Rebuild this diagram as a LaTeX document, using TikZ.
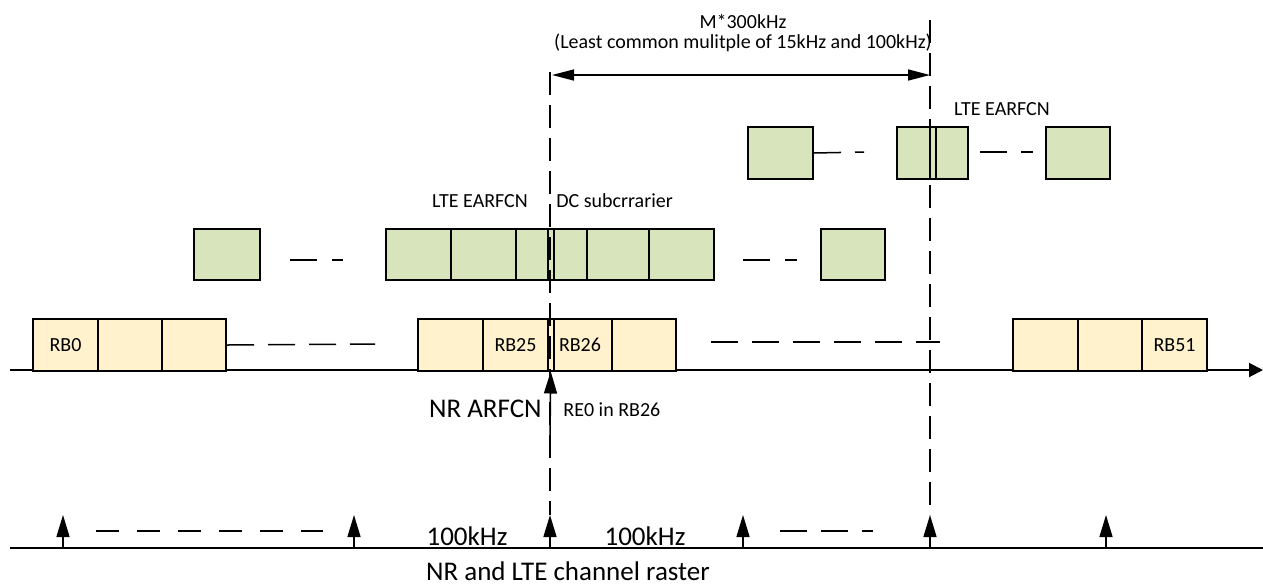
\documentclass[tikz,border=0pt]{standalone}
\usepackage{fontspec}
\setmainfont{Carlito}
\usetikzlibrary{arrows.meta}
\definecolor{nrfill}{HTML}{FFF2CC}
\definecolor{ltefill}{HTML}{D8E4BC}
\begin{document}
\begin{tikzpicture} [x=0.5pt, y=-0.5pt,
        every node/.style = {inner sep=0pt, font=\fontsize{10}{12}\selectfont},
        cellw/.style = {minimum width=#1*0.5pt},
        nrrb/.style = {draw, line width=1pt, fill=nrfill, anchor=north west, minimum height=26pt},
        lterb/.style = {draw, line width=1pt, fill=ltefill, anchor=north west, minimum height=25.5pt},
        big/.style = {font=\fontsize{13.5}{16}\selectfont},
        rowgap/.style = {line width=0.75pt, dash pattern=on 13.5pt off 7pt},
        guide/.style = {line width=0.75pt, dash pattern=on 11.5pt off 5pt},
        tip/.style = {line width=0.75pt, -{Triangle[length=11pt, width=6.5pt]}}]

            \useasboundingbox (0,0) rectangle (1263,585);

            % frequency axis and raster axis
            \coordinate (axL) at (10,370);
            \coordinate (axR) at (1263,370);
            \coordinate (rsL) at (10,548);
            \coordinate (rsR) at (1263,548);
            \draw[line width=1pt, -{Triangle[length=7pt, width=7pt]}] (axL) -- (axR);
            \draw[line width=1pt] (rsL) -- (rsR);

            % NR resource blocks
            \node[nrrb, cellw=65] (rb0)  at (32,318)  {RB0};
            \node[nrrb, cellw=64] (rb1)  at (97,318)  {};
            \node[nrrb, cellw=64] (rb2)  at (161,318) {};
            \node[nrrb, cellw=65] (rb24) at (417,318) {};
            \node[nrrb, cellw=65] (rb25) at (482,318) {RB25};
            \node[nrrb, cellw=64] (rb26) at (547,318) {RB26};
            \node[nrrb, cellw=6, line width=0.75pt] (re0) at (547,318) {};
            \node[nrrb, cellw=64] (rb27) at (611,318) {};
            \node[nrrb, cellw=65] (rb49) at (1012,318) {};
            \node[nrrb, cellw=64] (rb50) at (1077,318) {};
            \node[nrrb, cellw=65] (rb51) at (1141,318) {RB51};

            % LTE carrier around the NR ARFCN
            \node[lterb, cellw=66] (lm0) at (193,228) {};
            \node[lterb, cellw=65] (lm1) at (385,228) {};
            \node[lterb, cellw=65] (lm2) at (450,228) {};
            \node[lterb, cellw=32] (lm3) at (515,228) {};
            \node[lterb, cellw=6, line width=0.75pt] (dcm) at (547,228) {};
            \node[lterb, cellw=33] (lm4) at (553,228) {};
            \node[lterb, cellw=62] (lm5) at (586,228) {};
            \node[lterb, cellw=65] (lm6) at (648,228) {};
            \node[lterb, cellw=64] (lm7) at (820,228) {};

            % LTE carrier one raster step further
            \node[lterb, cellw=65, minimum height=26pt] (lt0) at (747,126) {};
            \node[lterb, cellw=33, minimum height=26pt] (lt1) at (896,126) {};
            \node[lterb, cellw=6, minimum height=26pt, line width=0.75pt] (dct) at (929,126) {};
            \node[lterb, cellw=32, minimum height=26pt] (lt2) at (935,126) {};
            \node[lterb, cellw=64, minimum height=26pt] (lt3) at (1045,126) {};

            \coordinate (gap1) at (375,344);
            \coordinate (gap2) at (711,342);
            \coordinate (gap3) at (940,342);
            \coordinate (lg0) at (290,260);
            \coordinate (lg1) at (343,260);
            \coordinate (lg2) at (743,260);
            \coordinate (lg3) at (797,260);
            \coordinate (tg0) at (864,152);
            \coordinate (tg1) at (980,152);
            \coordinate (tg2) at (1033,152);
            \coordinate (rg0) at (96,531);
            \coordinate (rg1) at (323,531);
            \coordinate (rg2) at (780,531);
            \coordinate (rg3) at (873,531);

            \draw[rowgap] (rb2.east) -- (gap1);
            \draw[rowgap] (gap2) -- (gap3);
            \draw[rowgap, dash pattern=on 13.5pt off 7.5pt] (lg0) -- (lg1);
            \draw[rowgap, dash pattern=on 13.5pt off 7.5pt] (lg2) -- (lg3);
            \draw[rowgap] (lt0.east) -- (tg0);
            \draw[rowgap] (tg1) -- (tg2);
            \draw[rowgap, dash pattern=on 11.25pt off 9.25pt] (rg0) -- (rg1);
            \draw[rowgap] (rg2) -- (rg3);

            % 100kHz channel raster
            \foreach \x [count=\i] in {63,354,550,743,930,1106} {
                \coordinate (r\i) at (\x,548);
                \coordinate (t\i) at (\x,515);
                \draw[tip] (r\i) -- (t\i);
            }

            \coordinate (gl) at (550,72);
            \coordinate (gr) at (930,20);
            \draw[guide] (gl) -- (t3);
            \draw[guide] (gr) -- (t5);

            \coordinate (nrlow) at (550,437);
            \draw[tip] (nrlow) -- (re0.south);

            \coordinate (dimL) at (552,75);
            \coordinate (dimR) at (930,75);
            \draw[line width=0.75pt, {Triangle[length=11pt, width=5.5pt]}-{Triangle[length=11pt, width=5.5pt]}] (dimL) -- (dimR);

            \node (span) at (743,21) {M*300kHz};
            \node (lcm)  at (743,43) {(Least common mulitple of 15kHz and 100kHz)};
            \node (earfcnT) at (1002,109) {LTE EARFCN};
            \node (earfcnM) at (480,201) {LTE EARFCN};
            \node[anchor=west] (dclbl) at (556,201) {DC subcrrarier};
            \node[big, anchor=east] (nrarfcn) at (542,409) {NR ARFCN};
            \node[anchor=west] (re0lbl) at (563,410) {RE0 in RB26};
            \node[big] (khzA) at (467,536) {100kHz};
            \node[big] (khzB) at (645,536) {100kHz};
            \node[big] (raster) at (568,571) {NR and LTE channel raster};
        \end{tikzpicture}
\end{document}
